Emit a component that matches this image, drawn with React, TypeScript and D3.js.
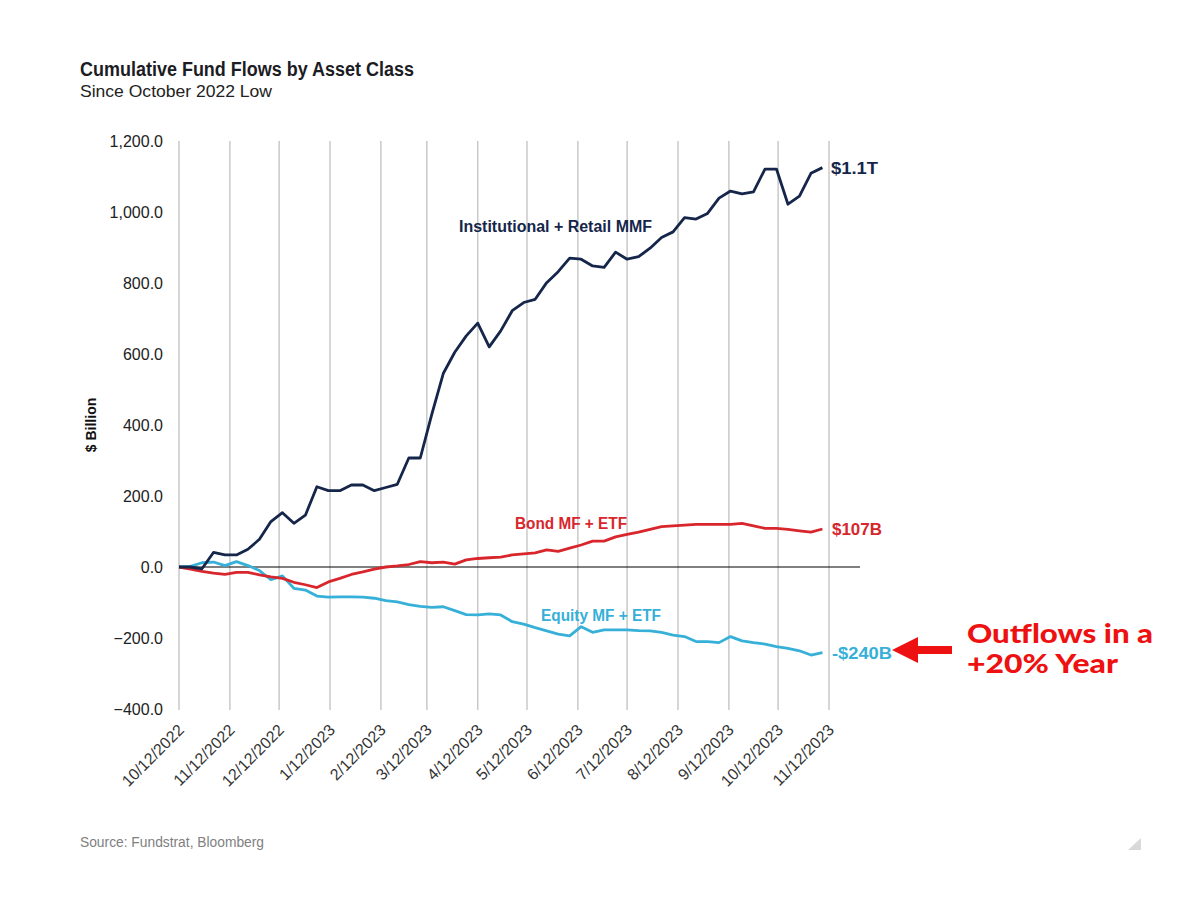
import React from "react";
import * as d3 from "d3";

const dates: string[] = [
  "2022-10-12","2022-10-19","2022-10-26","2022-11-02","2022-11-09","2022-11-16","2022-11-23","2022-11-30",
  "2022-12-07","2022-12-14","2022-12-21","2022-12-28","2023-01-04","2023-01-11","2023-01-18","2023-01-25",
  "2023-02-01","2023-02-08","2023-02-15","2023-02-22","2023-03-01","2023-03-08","2023-03-15","2023-03-22",
  "2023-03-29","2023-04-05","2023-04-12","2023-04-19","2023-04-26","2023-05-03","2023-05-10","2023-05-17",
  "2023-05-24","2023-05-31","2023-06-07","2023-06-14","2023-06-21","2023-06-28","2023-07-05","2023-07-12",
  "2023-07-19","2023-07-26","2023-08-02","2023-08-09","2023-08-16","2023-08-23","2023-08-30","2023-09-06",
  "2023-09-13","2023-09-20","2023-09-27","2023-10-04","2023-10-11","2023-10-18","2023-10-25","2023-11-01",
  "2023-11-08",
];

const mmfValues: number[] = [
  0, 0, -5, 41, 34, 34, 50, 78, 128, 153,
  123, 146, 226, 215, 215, 231, 231, 215, 224, 233,
  307, 307, 430, 545, 605, 651, 687, 620,
  665, 722, 745, 754, 801, 832, 870, 867, 848, 844,
  887, 867, 874, 898, 928, 944, 984, 980, 996, 1039,
  1059, 1051, 1057, 1121, 1121, 1022, 1045, 1109, 1125,
];

const bondValues: number[] = [
  0, -6, -12, -17, -21, -15, -15, -22, -28, -32,
  -43, -50, -58, -42, -32, -21, -14, -6, 0, 3,
  7, 15, 12, 14, 8, 20, 24, 26,
  28, 34, 37, 40, 48, 44, 53, 62, 73, 73,
  85, 92, 98, 106, 114, 116, 118, 120, 120, 120,
  120, 123, 116, 109, 109, 106, 102, 98, 107,
];

const equityValues: number[] = [
  0, 2, 12, 14, 4, 15, 4, -10, -36, -25,
  -60, -65, -82, -85, -84, -84, -85, -88, -95, -98,
  -106, -111, -114, -112, -123, -134, -135, -132,
  -135, -154, -161, -171, -180, -189, -194, -168, -184, -177,
  -177, -177, -179, -180, -184, -192, -196, -210, -210, -213,
  -196, -208, -213, -217, -224, -229, -236, -248, -241,
];

const xTickLabels: string[] = [
  "10/12/2022","11/12/2022","12/12/2022","1/12/2023","2/12/2023","3/12/2023","4/12/2023",
  "5/12/2023","6/12/2023","7/12/2023","8/12/2023","9/12/2023","10/12/2023","11/12/2023",
];

const yTicks: number[] = [-400, -200, 0, 200, 400, 600, 800, 1000, 1200];

const NAVY = "#15264a";
const RED = "#d8262c";
const CYAN = "#36b0d8";
const ANNOT = "#ee1111";

const parse = d3.timeParse("%Y-%m-%d");
const parseTick = d3.timeParse("%m/%d/%Y");

export default function App() {
  const x = d3
    .scaleTime()
    .domain([parse("2022-10-12") as Date, parse("2023-11-12") as Date])
    .range([179, 829]);
  const y = d3.scaleLinear().domain([-400, 1200]).range([709, 141]);

  const pts = (vals: number[]) => vals.map((v, i) => [x(parse(dates[i]) as Date), y(v)] as [number, number]);
  const line = d3.line<[number, number]>();
  const fmt = d3.format(",.1f");

  const sans = "'Liberation Sans', Arial, sans-serif";

  return (
    <svg width={1200} height={903} style={{ position: "absolute", left: 0, top: 0, background: "#fff" }}>
      <rect width={1200} height={903} fill="#fff" />
      {/* Title */}
      <text x={80} y={76} fontFamily={sans} fontWeight={700} fontSize={20} fill="#1c1c24" textLength={334} lengthAdjust="spacingAndGlyphs">
        Cumulative Fund Flows by Asset Class
      </text>
      <text x={80} y={97} fontFamily={sans} fontSize={17} fill="#222" textLength={192} lengthAdjust="spacingAndGlyphs">
        Since October 2022 Low
      </text>

      {/* gridlines */}
      {xTickLabels.map((t) => {
        const gx = x(parseTick(t) as Date);
        return <line key={"g" + t} x1={gx} x2={gx} y1={141} y2={710} stroke="#c9c9c9" strokeWidth={1.5} />;
      })}

      {/* zero line */}
      <line x1={179} x2={860} y1={y(0)} y2={y(0)} stroke="#000" strokeWidth={1.2} />

      {/* y tick labels */}
      {yTicks.map((t) => (
        <text key={"y" + t} x={163} y={y(t) + 5.5} textAnchor="end" fontFamily={sans} fontSize={16} fill="#222">
          {fmt(t)}
        </text>
      ))}
      <text
        transform={`translate(96,425) rotate(-90)`}
        textAnchor="middle"
        fontFamily={sans}
        fontWeight={700}
        fontSize={14}
        fill="#111"
      >
        $ Billion
      </text>

      {/* x tick labels */}
      {xTickLabels.map((t) => {
        const gx = x(parseTick(t) as Date);
        return (
          <text
            key={"x" + t}
            transform={`translate(${gx + 6},731) rotate(-45)`}
            textAnchor="end"
            fontFamily={sans}
            fontSize={16}
            fill="#333"
          >
            {t}
          </text>
        );
      })}

      {/* series */}
      <path d={line(pts(equityValues)) || ""} fill="none" stroke={CYAN} strokeWidth={2.8} strokeLinejoin="round" />
      <path d={line(pts(bondValues)) || ""} fill="none" stroke={RED} strokeWidth={2.8} strokeLinejoin="round" />
      <path d={line(pts(mmfValues)) || ""} fill="none" stroke={NAVY} strokeWidth={2.8} strokeLinejoin="round" />

      {/* series labels */}
      <text x={459} y={232} fontFamily={sans} fontWeight={700} fontSize={16} fill={NAVY} textLength={193} lengthAdjust="spacingAndGlyphs">
        Institutional + Retail MMF
      </text>
      <text x={831} y={174} fontFamily={sans} fontWeight={700} fontSize={17} fill={NAVY} textLength={47} lengthAdjust="spacingAndGlyphs">
        $1.1T
      </text>
      <text x={515} y={529} fontFamily={sans} fontWeight={700} fontSize={16} fill={RED} textLength={112} lengthAdjust="spacingAndGlyphs">
        Bond MF + ETF
      </text>
      <text x={832} y={535} fontFamily={sans} fontWeight={700} fontSize={17} fill={RED} textLength={50} lengthAdjust="spacingAndGlyphs">
        $107B
      </text>
      <text x={541} y={621} fontFamily={sans} fontWeight={700} fontSize={16} fill={CYAN} textLength={120} lengthAdjust="spacingAndGlyphs">
        Equity MF + ETF
      </text>
      <text x={832} y={659} fontFamily={sans} fontWeight={700} fontSize={17} fill={CYAN} textLength={60} lengthAdjust="spacingAndGlyphs">
        -$240B
      </text>

      {/* annotation */}
      <path d="M892,650 L918,637 L918,646 L952,646 L952,654 L918,654 L918,663 Z" fill={ANNOT} />
      <text x={967} y={643} fontFamily="Lato, 'Open Sans', sans-serif" fontWeight={900} fontSize={26} fill={ANNOT} textLength={186} lengthAdjust="spacingAndGlyphs">
        Outflows in a
      </text>
      <text x={967} y={673} fontFamily="Lato, 'Open Sans', sans-serif" fontWeight={900} fontSize={26} fill={ANNOT} textLength={151} lengthAdjust="spacingAndGlyphs">
        +20% Year
      </text>

      {/* source */}
      <text x={80} y={847} fontFamily={sans} fontSize={14} fill="#808080" textLength={184} lengthAdjust="spacingAndGlyphs">
        Source: Fundstrat, Bloomberg
      </text>
      <path d="M1128,850 L1141,850 L1141,838 Z" fill="#d9d9d9" />
    </svg>
  );
}
